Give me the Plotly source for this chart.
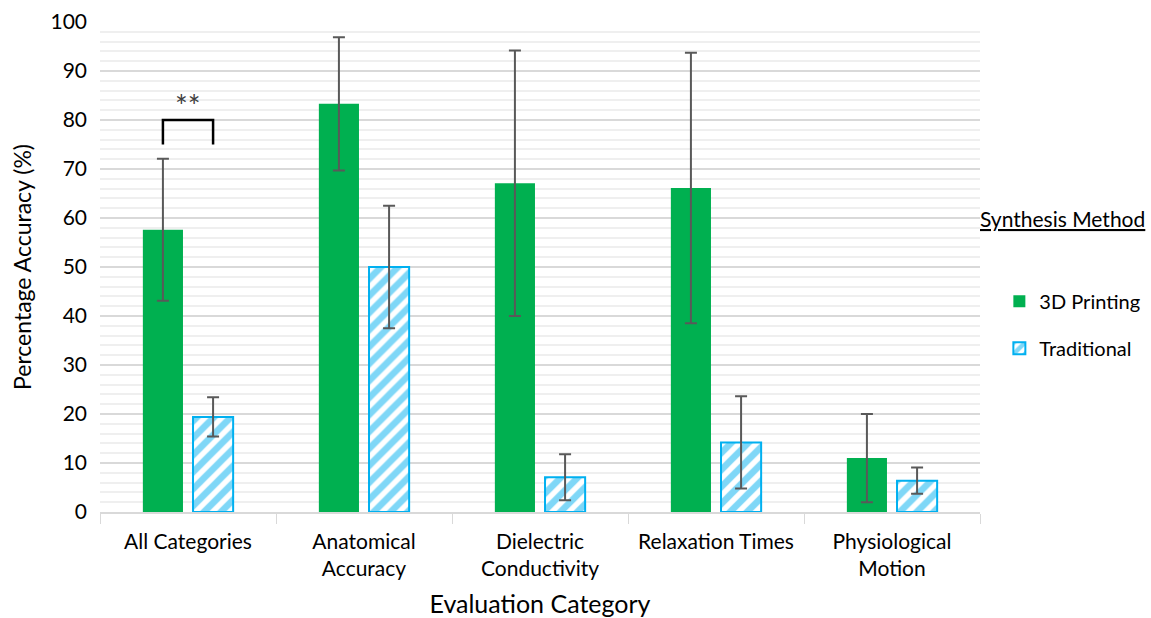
import plotly.graph_objects as go

# Evaluation categories (two-line labels where the text wraps)
categories = ["All Categories", "Anatomical<br>Accuracy", "Dielectric<br>Conductivity",
              "Relaxation Times", "Physiological<br>Motion"]

# Mean percentage accuracy and error (±) per synthesis method
printing_3d = [57.6, 83.3, 67.1, 66.1, 11.0]
printing_3d_err = [14.5, 13.6, 27.1, 27.6, 9.0]
traditional = [19.4, 50.0, 7.1, 14.2, 6.4]
traditional_err = [4.0, 12.5, 4.7, 9.4, 2.7]

# Significance bracket between the two bars of the first category
sig_label = "**"
sig_bracket_top = 80
sig_bracket_bottom = 75
sig_label_y = 83

FONT = "Lato, Open Sans, sans-serif"
GREEN = "#00B050"
BLUE = "#00B0F0"
ERR = "#595959"

fig = go.Figure()
fig.add_trace(go.Bar(
    name="3D Printing", x=categories, y=printing_3d, legendgroup="a",
    marker=dict(color=GREEN, line=dict(width=0)),
    error_y=dict(type="data", array=printing_3d_err, color=ERR, thickness=2, width=6),
))
fig.add_trace(go.Bar(
    name="Traditional", x=categories, y=traditional, legendgroup="b",
    marker=dict(color="white", line=dict(color=BLUE, width=2),
                pattern=dict(shape="/", fgcolor=BLUE, bgcolor="white", size=12, solidity=0.55)),
    error_y=dict(type="data", array=traditional_err, color=ERR, thickness=2, width=6),
))

# bracket: from centre of first bar to centre of second bar in category 0
half = (1 - 0.43) / 4
x0, x1 = -half, half
fig.add_shape(type="path", xref="x", yref="y",
              path=f"M {x0} {sig_bracket_bottom} L {x0} {sig_bracket_top} L {x1} {sig_bracket_top} L {x1} {sig_bracket_bottom}",
              line=dict(color="black", width=2.5))
fig.add_annotation(x=0, y=sig_label_y, xref="x", yref="y", text=sig_label, showarrow=False,
                   font=dict(size=30, color="#404040", family=FONT))

# legend heading
fig.add_annotation(x=1.0, xref="paper", xanchor="left", xshift=-2, y=0.60, yref="paper",
                   text="<u>Synthesis Method</u>", showarrow=False,
                   font=dict(size=21, color="black", family=FONT))

fig.update_layout(
    width=1151, height=618,
    margin=dict(l=100, r=171, t=22, b=106, autoexpand=False),
    plot_bgcolor="white", paper_bgcolor="white",
    barmode="group", bargap=0.43, bargroupgap=0.2,
    font=dict(family=FONT, color="black"),
    legend=dict(x=1.022, xanchor="left", y=0.47, yanchor="top",
                font=dict(size=20, color="black"), tracegroupgap=18,
                itemsizing="constant"),
    xaxis=dict(
        title=dict(text="Evaluation Category", font=dict(size=25), standoff=20),
        tickfont=dict(size=21), showline=True, linecolor="#d9d9d9", linewidth=1.5,
        ticks="outside", tickson="boundaries", ticklen=10, tickcolor="#d9d9d9",
        ticklabelstandoff=10, showgrid=False,
    ),
    yaxis=dict(
        title=dict(text="Percentage Accuracy (%)", font=dict(size=23), standoff=12),
        range=[0, 100], dtick=10, tickfont=dict(size=21), ticklabelstandoff=12,
        showgrid=True, gridcolor="#d9d9d9", gridwidth=1.5, zeroline=False,
        minor=dict(dtick=2, showgrid=True, gridcolor="#efefef", gridwidth=1.5),
        showline=False,
    ),
)

fig.write_html("out.html")
